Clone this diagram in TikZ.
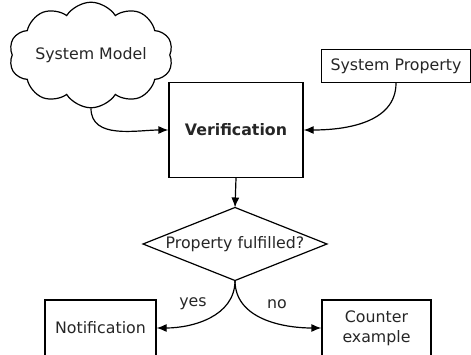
\documentclass[tikz,border=0pt]{standalone}
\usepackage{fontspec}
\setmainfont{DejaVu Sans}
\usetikzlibrary{shapes.symbols,arrows.meta}
\begin{document}
\begin{tikzpicture}[x=1pt,y=-1pt,
  lbl/.style={font=\fontsize{15.8}{20}\selectfont, text=black!85},
  box/.style={draw, line width=1.2pt, lbl, inner sep=0pt, align=center},
  conn/.style={line width=1.2pt, -{Latex[length=10pt,width=8pt]}}]
\useasboundingbox (0,0) rectangle (471,355);
\clip (0,0) rectangle (471,355);
\node[cloud, draw, line width=1.2pt, cloud puffs=10, cloud puff arc=115, aspect=1.9,
      minimum width=162pt, minimum height=84pt, inner sep=0pt, lbl] (sm) at (91,55) {System Model};
\node[box, minimum width=149pt, minimum height=33pt] (sp) at (396,66) {System Property};
\node[box, minimum width=134pt, minimum height=95pt, font=\fontsize{15.8}{20}\selectfont\bfseries] (ver) at (236,130) {Verification};
\node[lbl, inner sep=0pt] (pf) at (235,244) {Property fulfilled?};
\coordinate (dt) at (235,207.5);
\coordinate (db) at (235,280.5);
\coordinate (dl) at (143,244);
\coordinate (dr) at (327,244);
\draw[line width=1.2pt] (dt) -- (dr) -- (db) -- (dl) -- cycle;
\node[box, minimum width=111pt, minimum height=56pt] (nt) at (100.5,328) {Notification};
\node[box, minimum width=109pt, minimum height=56pt] (ce) at (376.5,328) {Counter\\example};
\node[lbl, inner sep=0pt] (yes) at (193,304) {yes};
\node[lbl, inner sep=0pt] (no) at (277,304) {no};
\draw[conn] (sm.south) to[out=-90,in=180] (ver.west);
\draw[conn] (sp.south) to[out=-90,in=0] (ver.east);
\draw[conn] (ver.south) -- (dt);
\draw[conn] (db) to[out=-90,in=0] (nt.east);
\draw[conn] (db) to[out=-90,in=180] (ce.west);
\end{tikzpicture}
\end{document}
